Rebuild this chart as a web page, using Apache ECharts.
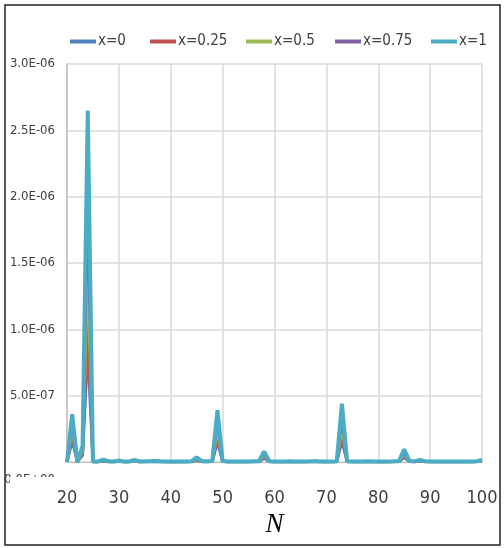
<!DOCTYPE html>
<html><head><meta charset="utf-8">
<script src="https://cdn.jsdelivr.net/npm/echarts@6/dist/echarts.min.js"></script>
<style>html,body{margin:0;padding:0;background:#fff}#c{width:504px;height:548px}</style>
</head><body><div id="c"></div>
<script>
const N = [20,21,22,23,24,25,26,27,28,29,30,31,32,33,34,35,36,37,38,39,40,41,42,43,44,45,46,47,48,49,50,51,52,53,54,55,56,57,58,59,60,61,62,63,64,65,66,67,68,69,70,71,72,73,74,75,76,77,78,79,80,81,82,83,84,85,86,87,88,89,90,91,92,93,94,95,96,97,98,99,100];
const seriesNames = ['x=0','x=0.25','x=0.5','x=0.75','x=1'];
const x0 = [1e-9,1.6e-7,1e-9,5e-8,8.5e-7,1e-9,1e-9,6e-9,2e-9,1e-9,
4e-9,1e-9,1e-9,5e-9,1e-9,2e-9,2e-9,2e-9,2e-9,1e-9,
1e-9,1e-9,1e-9,1e-9,2e-9,1.2e-8,2e-9,2e-9,3e-9,1.5e-7,
3e-9,1e-9,1e-9,1e-9,1e-9,1e-9,2e-9,2e-9,3e-8,2e-9,
1e-9,1e-9,1e-9,2e-9,1e-9,1e-9,1e-9,2e-9,2e-9,1e-9,
1e-9,1e-9,2e-9,1.6e-7,2e-9,1e-9,1e-9,1e-9,2e-9,1e-9,
1e-9,1e-9,1e-9,2e-9,2e-9,3.5e-8,3e-9,2e-9,5e-9,2e-9,
1e-9,1e-9,1e-9,1e-9,1e-9,1e-9,1e-9,1e-9,1e-9,2e-9,
5e-9];
const x025 = [1e-9,2.0e-7,1e-9,6e-8,1.05e-6,1e-9,2e-9,8e-9,2e-9,2e-9,
5e-9,1e-9,2e-9,7e-9,2e-9,2e-9,3e-9,3e-9,2e-9,2e-9,
1e-9,1e-9,1e-9,2e-9,3e-9,1.6e-8,3e-9,2e-9,4e-9,1.9e-7,
4e-9,2e-9,1e-9,1e-9,2e-9,2e-9,2e-9,3e-9,4e-8,3e-9,
2e-9,1e-9,2e-9,2e-9,2e-9,1e-9,2e-9,2e-9,3e-9,2e-9,
1e-9,2e-9,3e-9,2.0e-7,3e-9,2e-9,1e-9,2e-9,2e-9,2e-9,
1e-9,1e-9,2e-9,2e-9,3e-9,4.5e-8,4e-9,2e-9,7e-9,3e-9,
2e-9,1e-9,1e-9,1e-9,1e-9,1e-9,1e-9,1e-9,2e-9,3e-9,
7e-9];
const x05 = [1e-9,2.4e-7,1e-9,8e-8,1.45e-6,2e-9,2e-9,1.1e-8,3e-9,2e-9,
7e-9,2e-9,2e-9,9e-9,2e-9,3e-9,4e-9,4e-9,3e-9,2e-9,
2e-9,2e-9,2e-9,2e-9,4e-9,2.1e-8,4e-9,3e-9,5e-9,2.4e-7,
5e-9,2e-9,2e-9,2e-9,2e-9,2e-9,3e-9,4e-9,5e-8,4e-9,
2e-9,2e-9,2e-9,3e-9,2e-9,2e-9,2e-9,3e-9,4e-9,2e-9,
2e-9,2e-9,4e-9,2.6e-7,4e-9,2e-9,2e-9,2e-9,3e-9,2e-9,
2e-9,2e-9,2e-9,3e-9,4e-9,6e-8,5e-9,3e-9,9e-9,4e-9,
2e-9,2e-9,2e-9,2e-9,2e-9,2e-9,2e-9,2e-9,2e-9,4e-9,
9e-9];
const x075 = [1e-9,2.9e-7,1e-9,1.0e-7,1.95e-6,2e-9,3e-9,1.4e-8,4e-9,3e-9,
9e-9,2e-9,3e-9,1.2e-8,3e-9,4e-9,5e-9,5e-9,4e-9,3e-9,
2e-9,2e-9,2e-9,3e-9,5e-9,2.7e-8,5e-9,4e-9,6e-9,3.1e-7,
6e-9,3e-9,2e-9,2e-9,3e-9,3e-9,4e-9,5e-9,6.5e-8,5e-9,
3e-9,2e-9,3e-9,4e-9,3e-9,2e-9,3e-9,4e-9,5e-9,3e-9,
2e-9,3e-9,5e-9,3.4e-7,5e-9,3e-9,2e-9,3e-9,4e-9,3e-9,
2e-9,2e-9,3e-9,4e-9,5e-9,7.5e-8,6e-9,4e-9,1.2e-8,5e-9,
3e-9,2e-9,2e-9,2e-9,2e-9,2e-9,2e-9,2e-9,3e-9,5e-9,
1.2e-8];
const x1 = [2e-9,3.6e-7,1e-9,1.2e-7,2.65e-6,3e-9,4e-9,1.8e-8,5e-9,4e-9,
1.2e-8,3e-9,4e-9,1.5e-8,4e-9,5e-9,6e-9,7e-9,5e-9,4e-9,
3e-9,3e-9,3e-9,4e-9,6e-9,3.5e-8,6e-9,5e-9,8e-9,3.9e-7,
8e-9,4e-9,3e-9,3e-9,4e-9,4e-9,5e-9,6e-9,8.0e-8,6e-9,
4e-9,3e-9,4e-9,5e-9,4e-9,3e-9,4e-9,5e-9,6e-9,4e-9,
3e-9,4e-9,6e-9,4.4e-7,6e-9,4e-9,3e-9,4e-9,5e-9,4e-9,
3e-9,3e-9,4e-9,5e-9,7e-9,9.5e-8,8e-9,5e-9,1.6e-8,6e-9,
4e-9,3e-9,3e-9,3e-9,3e-9,3e-9,3e-9,3e-9,4e-9,6e-9,
1.6e-8];
const yTickLabels = ['0.0E+00','5.0E-07','1.0E-06','1.5E-06','2.0E-06','2.5E-06','3.0E-06'];
const xTickLabels = ['20','30','40','50','60','70','80','90','100'];

const colors = ['#4F81BD','#C0504D','#9BBB59','#8064A2','#4BACC6'];
const values = [x0, x025, x05, x075, x1];
const legendLeft = [70, 150, 246, 335, 431];
const NARROW = "'Liberation Sans Narrow','DejaVu Sans Condensed','Liberation Sans',sans-serif";

const chart = echarts.init(document.getElementById('c'), null, {renderer:'canvas'});
const option = {
  animation: false,
  backgroundColor: '#fff',
  color: colors,
  legend: seriesNames.map((n, i) => ({
    data: [n], left: legendLeft[i], top: 34, padding: 0,
    icon: 'rect', itemWidth: 26, itemHeight: 4,
    textStyle: {fontFamily: NARROW, fontSize: 15, color: '#404040', padding: [0,0,0,-3]}
  })),
  grid: {left: 67, right: 22, top: 64, bottom: 86, containLabel: false},
  xAxis: {
    type: 'value', min: 20, max: 100, interval: 10,
    name: 'N', nameLocation: 'middle', nameGap: 48,
    nameTextStyle: {fontFamily: "'Liberation Serif','Times New Roman',serif", fontStyle: 'italic', fontSize: 27, color: '#000'},
    axisLine: {show: true, lineStyle: {color: '#bfbfbf', width: 1}},
    axisTick: {show: false},
    axisLabel: {fontFamily: NARROW, fontSize: 18, color: '#404040', margin: 27,
      formatter: v => xTickLabels[Math.round((v - 20) / 10)] || ''},
    splitLine: {show: true, lineStyle: {color: '#d9d9d9', width: 1.5}}
  },
  yAxis: {
    type: 'value', min: 0, max: 3e-6, interval: 5e-7,
    axisLine: {show: true, lineStyle: {color: '#bfbfbf', width: 1.5}},
    axisTick: {show: false},
    axisLabel: {fontFamily: NARROW, fontSize: 13, color: '#404040', margin: 12,
      formatter: v => { const i = Math.round(v / 5e-7); return i === 0 ? '' : (yTickLabels[i] || ''); }},
    splitLine: {show: true, lineStyle: {color: '#d9d9d9', width: 1.5}}
  },
  series: seriesNames.map((n, i) => ({
    name: n, type: 'line', showSymbol: false, symbol: 'none',
    data: N.map((x, k) => [x, values[i][k]]),
    lineStyle: {width: i === 4 ? 4 : 3, color: colors[i]},
    itemStyle: {color: colors[i]},
    z: 2 + i
  })),
  graphic: [
    {type: 'rect', shape: {x: 5, y: 5, width: 495, height: 540}, style: {fill: 'none', stroke: '#222', lineWidth: 1.5}, z: 0, silent: true},
    {type: 'text', x: 55, y: 473, style: {text: yTickLabels[0], font: "13px 'Liberation Sans Narrow','DejaVu Sans Condensed',sans-serif", fill: '#404040', textAlign: 'right', textVerticalAlign: 'top'}, z: 10},
    {type: 'rect', shape: {x: 10, y: 477, width: 50, height: 10}, style: {fill: '#fff'}, z: 11, silent: true}
  ]
};
chart.setOption(option);
</script>
</body></html>
